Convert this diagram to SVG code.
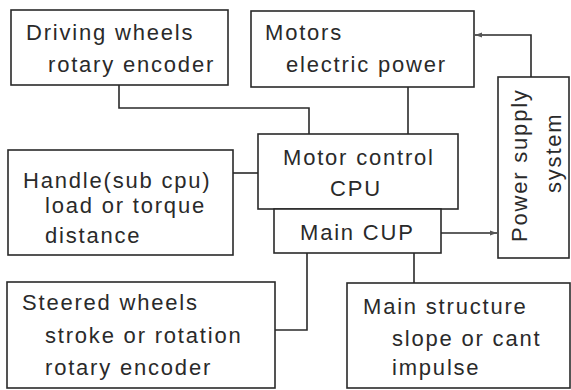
<svg xmlns="http://www.w3.org/2000/svg" width="571" height="390" viewBox="0 0 571 390">
<style>
.box{fill:#fff;stroke:#2a2a2a;stroke-width:1.6}
.ln{fill:none;stroke:#2a2a2a;stroke-width:1.6}
.t{font-family:"Liberation Sans",Arial,sans-serif;font-size:22px;letter-spacing:1.8px;fill:#2a2a2a}
</style>
<defs>
<marker id="ah" viewBox="0 0 10 10" refX="10" refY="5" markerWidth="7" markerHeight="7" orient="auto" markerUnits="userSpaceOnUse">
<path d="M0,1.5 L10,5 L0,8.5 Z" fill="#555"/>
</marker>
</defs>
<rect width="571" height="390" fill="#fff"/>
<g id="connectors">
<path class="ln" d="M119,85 V108 H309 V134"/>
<path class="ln" d="M408,87 V134"/>
<path class="ln" d="M233,173 H258"/>
<path class="ln" d="M275,330 H307 V253"/>
<path class="ln" d="M414,253 V283"/>
<path class="ln" d="M531,77 V35 H475" marker-end="url(#ah)" stroke="#444"/>
<path class="ln" d="M441,233 H497" marker-end="url(#ah)" stroke="#444"/>
</g>
<g id="driving">
<rect class="box" x="11" y="10" width="217" height="75"/>
<text class="t" x="26" y="40">Driving wheels</text>
<text class="t" x="48" y="72">rotary encoder</text>
</g>
<g id="motors">
<rect class="box" x="251" y="11" width="223" height="76"/>
<text class="t" x="265" y="40">Motors</text>
<text class="t" x="286" y="72">electric power</text>
</g>
<g id="power">
<rect class="box" x="498" y="77" width="71" height="181"/>
<text class="t" transform="translate(527,242) rotate(-90)">Power supply</text>
<text class="t" transform="translate(561,193) rotate(-90)">system</text>
</g>
<g id="handle">
<rect class="box" x="8" y="150" width="225" height="105"/>
<text class="t" x="23" y="188">Handle(sub cpu)</text>
<text class="t" x="45" y="213">load or torque</text>
<text class="t" x="45" y="243">distance</text>
</g>
<g id="motorcpu">
<rect class="box" x="258" y="134" width="200" height="75"/>
<text class="t" x="283" y="165">Motor control</text>
<text class="t" x="330" y="196">CPU</text>
</g>
<g id="maincup">
<rect class="box" x="274" y="209" width="167" height="44"/>
<text class="t" x="300" y="240">Main CUP</text>
</g>
<g id="steered">
<rect class="box" x="7" y="282" width="268" height="106"/>
<text class="t" x="22" y="310">Steered wheels</text>
<text class="t" x="45" y="343">stroke or rotation</text>
<text class="t" x="45" y="375">rotary encoder</text>
</g>
<g id="mainstructure">
<rect class="box" x="347" y="283" width="223" height="105"/>
<text class="t" x="363" y="314">Main structure</text>
<text class="t" x="392" y="346">slope or cant</text>
<text class="t" x="392" y="375">impulse</text>
</g>
</svg>
